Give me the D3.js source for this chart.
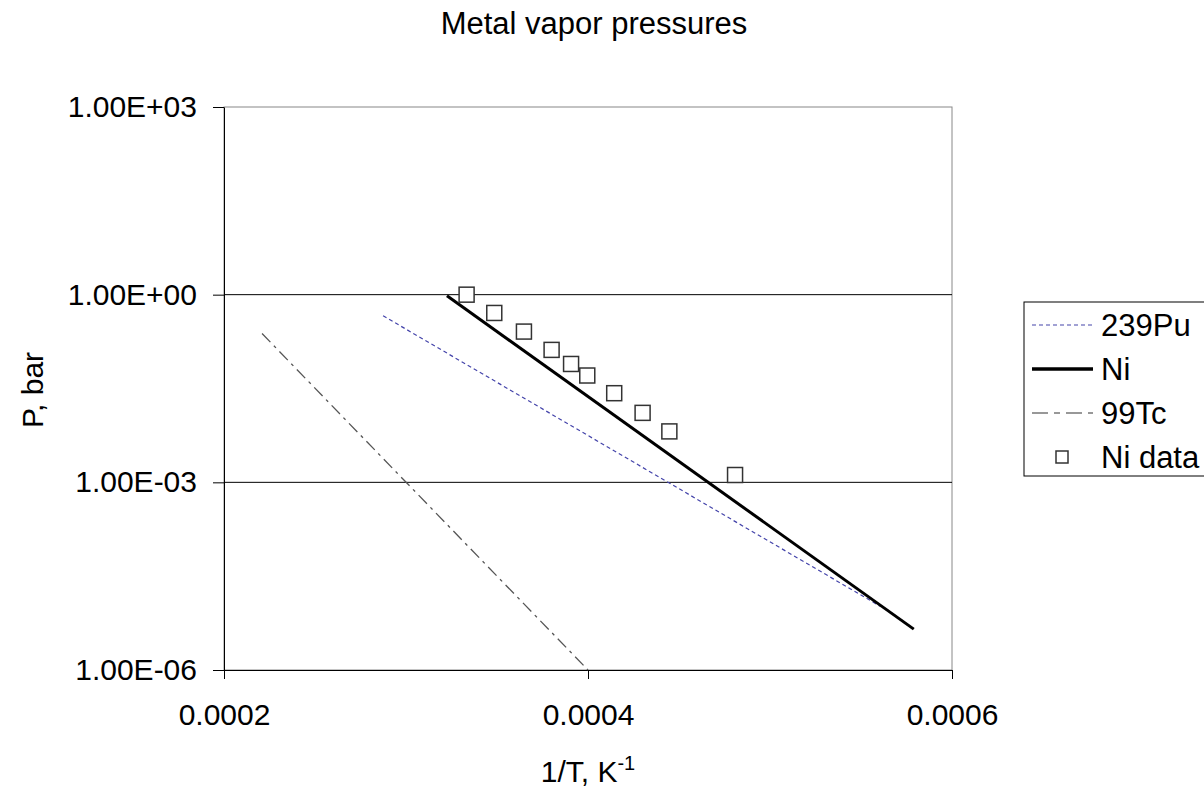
<!DOCTYPE html>
<html>
<head>
<meta charset="utf-8">
<script src="https://cdn.jsdelivr.net/npm/d3@7/dist/d3.min.js"></script>
<style>
body { margin: 0; background: #fff; }
svg { font-family: "Liberation Sans", Arial, sans-serif; }
.tick text { font-size: 30px; fill: #000; }
</style>
</head>
<body>
<svg width="1204" height="791"></svg>
<script>
// 1/T (K^-1) and pressure (bar)
var puX = [0.0002874, 0.0005604];
var puP = [0.46, 1.05e-5];
var niX = [0.0003225, 0.000579];
var niP = [0.96, 4.5e-6];
var tcX = [0.0002209, 0.0004];
var tcP = [0.239, 1.0e-6];
var niDataX = [0.0003333, 0.0003485, 0.0003648, 0.00038, 0.0003907, 0.0003996, 0.0004144, 0.00043, 0.0004447, 0.0004808];
var niDataP = [1.0, 0.51, 0.257, 0.131, 0.078, 0.051, 0.0266, 0.0129, 0.00652, 0.00131];
var xTicks = [0.0002, 0.0004, 0.0006];
var yTicks = [1e-6, 1e-3, 1e0, 1e3];
var yTickLabels = ["1.00E-06", "1.00E-03", "1.00E+00", "1.00E+03"];

var svg = d3.select("svg");
var pLeft = 224, pTop = 107, pRight = 952, pBottom = 670;

var x = d3.scaleLinear().domain([0.0002, 0.0006]).range([pLeft, pRight]);
var y = d3.scaleLog().domain([1e-6, 1e3]).range([pBottom, pTop]);

// plot border
svg.append("rect")
  .attr("x", pLeft).attr("y", pTop)
  .attr("width", pRight - pLeft).attr("height", pBottom - pTop)
  .attr("fill", "none").attr("stroke", "#888").attr("stroke-width", 1);

// gridlines
svg.append("g").selectAll("line")
  .data([1e-3, 1e0])
  .enter().append("line")
  .attr("x1", pLeft).attr("x2", pRight)
  .attr("y1", d => y(d)).attr("y2", d => y(d))
  .attr("stroke", "#000").attr("stroke-width", 1);

// axes
var yAxis = d3.axisLeft(y).tickValues(yTicks)
  .tickFormat((d, i) => yTickLabels[i]).tickSize(11).tickPadding(16).tickSizeOuter(0);
svg.append("g").attr("transform", "translate(" + pLeft + ",0)").call(yAxis)
  .call(g => g.selectAll("line, path").attr("stroke", "#000"));

var xAxis = d3.axisBottom(x).tickValues(xTicks)
  .tickFormat(d3.format(".4f")).tickSize(9).tickPadding(25).tickSizeOuter(0);
svg.append("g").attr("transform", "translate(0," + pBottom + ")").call(xAxis)
  .call(g => g.selectAll("line, path").attr("stroke", "#000"));

var line = d3.line().x(d => x(d[0])).y(d => y(d[1]));

svg.append("path")
  .datum(d3.zip(tcX, tcP))
  .attr("d", line).attr("fill", "none")
  .attr("stroke", "#555").attr("stroke-width", 1.3)
  .attr("stroke-dasharray", "12,5,3,5");

svg.append("path")
  .datum(d3.zip(puX, puP))
  .attr("d", line).attr("fill", "none")
  .attr("stroke", "#4444aa").attr("stroke-width", 1.2)
  .attr("stroke-dasharray", "4,3");

svg.append("path")
  .datum(d3.zip(niX, niP))
  .attr("d", line).attr("fill", "none")
  .attr("stroke", "#000").attr("stroke-width", 3);

svg.append("g").selectAll("rect")
  .data(d3.zip(niDataX, niDataP))
  .enter().append("rect")
  .attr("x", d => x(d[0]) - 7.5).attr("y", d => y(d[1]) - 7.5)
  .attr("width", 15).attr("height", 15)
  .attr("fill", "#fff").attr("stroke", "#333").attr("stroke-width", 1.5);

// titles
svg.append("text").attr("x", 594).attr("y", 34).attr("text-anchor", "middle")
  .attr("font-size", 31).text("Metal vapor pressures");

svg.append("text").attr("transform", "translate(43,390) rotate(-90)")
  .attr("text-anchor", "middle").attr("font-size", 30).text("P, bar");

var xl = svg.append("text").attr("x", 588).attr("y", 782).attr("text-anchor", "middle")
  .attr("font-size", 30);
xl.append("tspan").text("1/T, K");
xl.append("tspan").attr("font-size", 20).attr("dy", -12).text("-1");

// legend
var lg = svg.append("g");
lg.append("rect").attr("x", 1024).attr("y", 302).attr("width", 200).attr("height", 174)
  .attr("fill", "#fff").attr("stroke", "#000").attr("stroke-width", 1);
var legItems = [
  { name: "239Pu", stroke: "#4444aa", w: 1.2, dash: "4,3" },
  { name: "Ni", stroke: "#000", w: 3.5, dash: null },
  { name: "99Tc", stroke: "#333", w: 1.2, dash: "16,6,6,6" },
  { name: "Ni data", stroke: null }
];
legItems.forEach(function(d, i) {
  var cy = 325 + i * 44;
  if (d.stroke) {
    lg.append("line").attr("x1", 1032).attr("x2", 1093).attr("y1", cy).attr("y2", cy)
      .attr("stroke", d.stroke).attr("stroke-width", d.w)
      .attr("stroke-dasharray", d.dash);
  } else {
    lg.append("rect").attr("x", 1056).attr("y", cy - 6).attr("width", 12).attr("height", 12)
      .attr("fill", "#fff").attr("stroke", "#333").attr("stroke-width", 1.5);
  }
  lg.append("text").attr("x", 1101).attr("y", cy + 11).attr("font-size", 31).text(d.name);
});
</script>
</body>
</html>
